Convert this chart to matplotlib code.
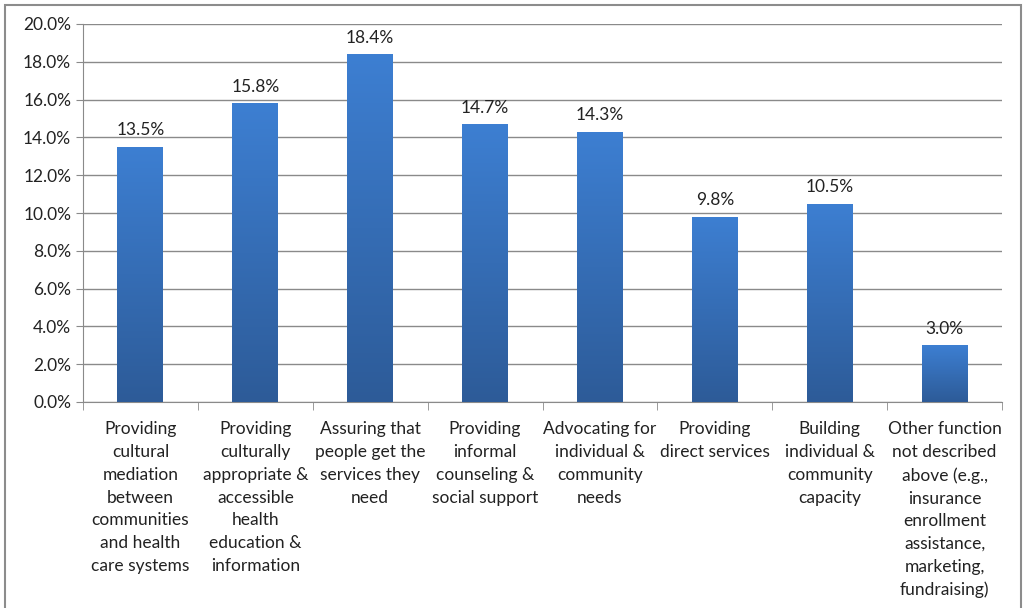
import numpy as np
import matplotlib
matplotlib.use("Agg")
import matplotlib.pyplot as plt
from matplotlib.patches import Rectangle
from matplotlib.ticker import FuncFormatter, MultipleLocator

plt.rcParams['font.family'] = ['Lato', 'DejaVu Sans']

# ==== Data ====
categories = [
    "Providing\ncultural\nmediation\nbetween\ncommunities\nand health\ncare systems",
    "Providing\nculturally\nappropriate &\naccessible\nhealth\neducation &\ninformation",
    "Assuring that\npeople get the\nservices they\nneed",
    "Providing\ninformal\ncounseling &\nsocial support",
    "Advocating for\nindividual &\ncommunity\nneeds",
    "Providing\ndirect services",
    "Building\nindividual &\ncommunity\ncapacity",
    "Other function\nnot described\nabove (e.g.,\ninsurance\nenrollment\nassistance,\nmarketing,\nfundraising)",
]
values = [13.5, 15.8, 18.4, 14.7, 14.3, 9.8, 10.5, 3.0]

fig = plt.figure(figsize=(10.25, 6.08), dpi=100)
ax = fig.add_axes([83 / 1025, 1 - 402 / 608, (1002 - 83) / 1025, (402 - 24) / 608])

# figure border
fig.patches.append(Rectangle((5 / 1025, -0.01), 1016 / 1025, 1 - 5 / 608 + 0.01,
                             transform=fig.transFigure, fill=False,
                             edgecolor="#8c8c8c", linewidth=1.5))

x = np.arange(len(values))
bars = ax.bar(x, values, width=0.4, color="#3a72bd", zorder=2)

# vertical gradient on each bar
grad = np.linspace(0, 1, 256).reshape(-1, 1)
cmap = matplotlib.colors.LinearSegmentedColormap.from_list("g", ["#2d5b98", "#3d7fd2"])
for b in bars:
    x0, y0 = b.get_x(), b.get_y()
    im = ax.imshow(grad, extent=(x0, x0 + b.get_width(), y0, y0 + b.get_height()),
                   origin="lower", cmap=cmap, aspect="auto", zorder=3)
    im.set_clip_path(b)

for xi, v in zip(x, values):
    ax.text(xi, v + 0.45, f"{v:.1f}%", ha="center", va="bottom",
            fontsize=12.5, color="#222222", zorder=4)

ax.set_xlim(-0.5, len(values) - 0.5)
ax.set_ylim(0, 20)
ax.yaxis.set_major_locator(MultipleLocator(2))
ax.yaxis.set_major_formatter(FuncFormatter(lambda v, p: f"{v:.1f}%"))
ax.grid(axis="y", color="#8a8a8a", linewidth=1, zorder=0)
ax.set_axisbelow(True)

ax.set_xticks(x)
ax.set_xticklabels(categories, fontsize=12.5, linespacing=1.52, color="#222222")
ax.set_xticks(np.arange(-0.5, len(values)), minor=True)
ax.tick_params(axis="x", which="major", length=0, pad=14)
ax.tick_params(axis="x", which="minor", length=6, color="#8a8a8a")
ax.tick_params(axis="y", length=5, color="#8a8a8a", labelsize=12.5, labelcolor="#222222")

for s in ["top", "right"]:
    ax.spines[s].set_visible(False)
ax.spines["left"].set_color("#8a8a8a")
ax.spines["bottom"].set_color("#8a8a8a")

fig.savefig("out.png", dpi=100)
